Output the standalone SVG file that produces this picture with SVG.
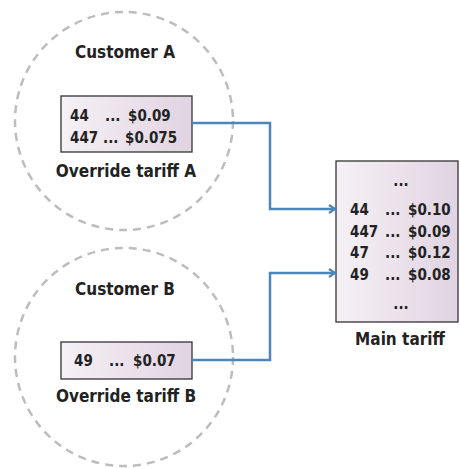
<svg xmlns="http://www.w3.org/2000/svg" width="460" height="468" viewBox="0 0 460 468">
<defs>
<linearGradient id="g" x1="0" y1="0" x2="1" y2="0">
<stop offset="0" stop-color="#f5f1f5"/>
<stop offset="1" stop-color="#e1d3e1"/>
</linearGradient>
<marker id="ar" markerWidth="10" markerHeight="10" refX="8" refY="5" orient="auto" markerUnits="userSpaceOnUse">
<path d="M2,1 L8,5 L2,9" fill="none" stroke="#4a86bc" stroke-width="2.2"/>
</marker>
<style>
text{font-family:"DejaVu Sans Condensed","DejaVu Sans",sans-serif;font-weight:bold;font-size:15px;fill:#222}
.c{text-anchor:middle}
.l{font-size:17px}
.circ{fill:none;stroke:#bdbdbf;stroke-width:2.5;stroke-dasharray:8 6}
.box{fill:url(#g);stroke:#333;stroke-width:1.3}
.con{fill:none;stroke:#4a86bc;stroke-width:2.5}
</style>
</defs>
<g id="customerA">
<circle class="circ" cx="124" cy="121" r="109"/>
<text class="c l" x="125" y="58">Customer A</text>
</g>
<g id="overrideA">
<rect class="box" x="61" y="96" width="131" height="56"/>
<text x="70" y="121">44</text><text x="105" y="121">...</text><text x="128" y="121">$0.09</text>
<text x="70" y="143">447</text><text x="103" y="143">...</text><text x="125" y="143">$0.075</text>
<text class="c l" x="126" y="177">Override tariff A</text>
</g>
<g id="customerB">
<circle class="circ" cx="124" cy="357" r="109"/>
<text class="c l" x="125" y="295">Customer B</text>
</g>
<g id="overrideB">
<rect class="box" x="61" y="342" width="131" height="37"/>
<text x="74" y="366">49</text><text x="109" y="366">...</text><text x="133" y="366">$0.07</text>
<text class="c l" x="126" y="402">Override tariff B</text>
</g>
<g id="main">
<rect class="box" x="336" y="161" width="122" height="161"/>
<text class="c" x="401" y="186">...</text>
<text x="350" y="215">44</text><text x="385" y="215">...</text><text x="408" y="215">$0.10</text>
<text x="350" y="237">447</text><text x="385" y="237">...</text><text x="408" y="237">$0.09</text>
<text x="350" y="258">47</text><text x="385" y="258">...</text><text x="408" y="258">$0.12</text>
<text x="350" y="280">49</text><text x="385" y="280">...</text><text x="408" y="280">$0.08</text>
<text class="c" x="401" y="309">...</text>
<text class="c l" x="400" y="345">Main tariff</text>
</g>
<g id="connectors">
<path class="con" d="M192,123 H270 V209 H335" marker-end="url(#ar)"/>
<path class="con" d="M192,360 H270 V273 H335" marker-end="url(#ar)"/>
</g>
</svg>
